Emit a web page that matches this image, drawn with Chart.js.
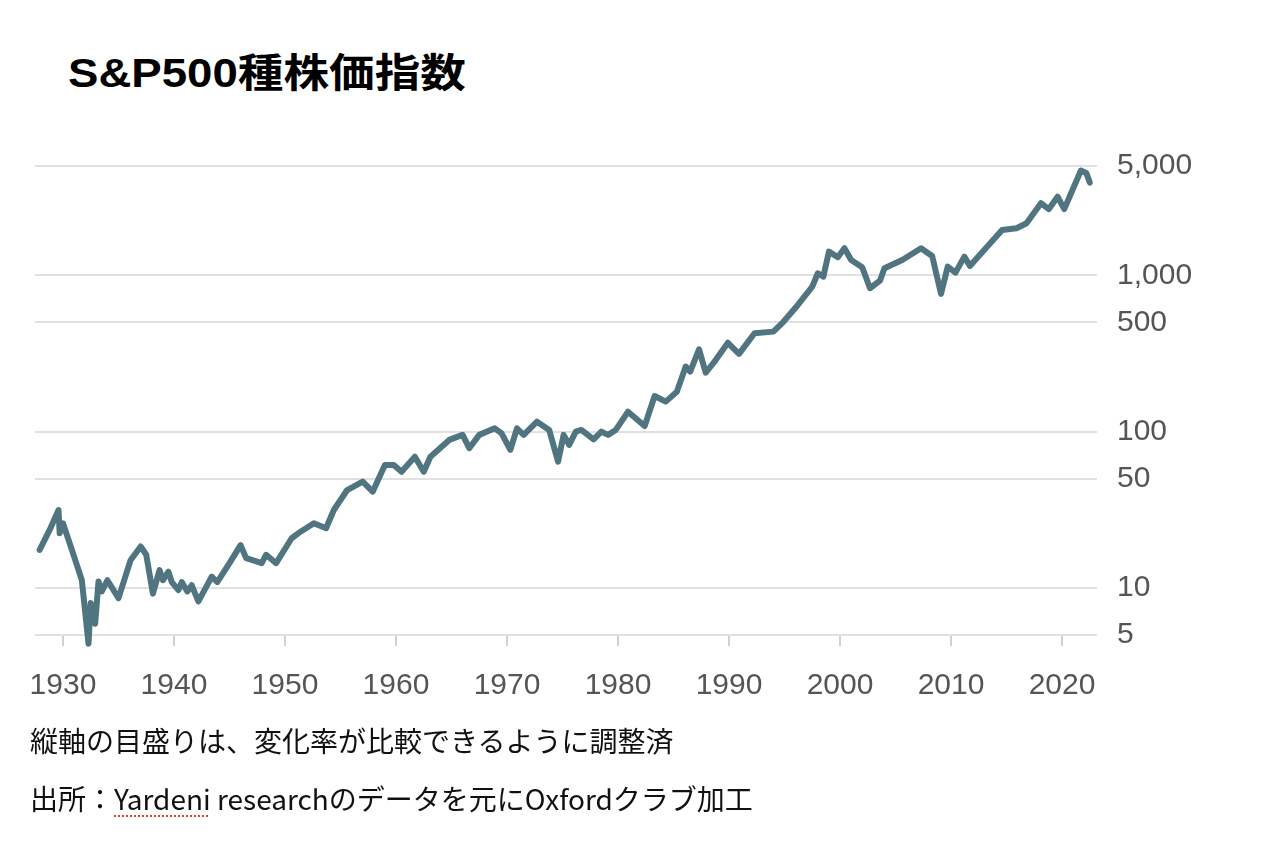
<!DOCTYPE html>
<html>
<head>
<meta charset="utf-8">
<script src="https://cdn.jsdelivr.net/npm/chart.js@4.4.1/dist/chart.umd.min.js"></script>
<style>
html, body { margin: 0; padding: 0; background: #fff; }
body { width: 1268px; height: 846px; position: relative; overflow: hidden; font-family: "Noto Sans CJK JP", sans-serif; }
#sp500_chart { position: absolute; left: 0; top: 0; }
.title { position: absolute; left: 68px; top: 53px; font: bold 40px/40px "Liberation Sans", "Noto Sans CJK JP", sans-serif;
         transform: scaleX(1.14); transform-origin: left top; color: #000; white-space: nowrap; }
.note { position: absolute; left: 30px; font-size: 28px; line-height: 28px; color: #111; white-space: nowrap; }
.spell { text-decoration: underline dotted #e03c3c; text-decoration-thickness: 2px; text-underline-offset: 5px; }
</style>
</head>
<body>
<div class="title">S&amp;P500種株価指数</div>
<canvas id="sp500_chart" width="1268" height="846"></canvas>
<div class="note" style="top:726px">縦軸の目盛りは、変化率が比較できるように調整済</div>
<div class="note" style="top:784px">出所：<span class="spell">Yardeni</span> researchのデータを元にOxfordクラブ加工</div>
<script>
// values (log scale)
const years = [
    1927.9, 1928.8, 1929.6, 1929.7, 1930.0, 1930.9, 1931.7, 1932.3, 1932.5, 1932.9,
    1933.2, 1933.5, 1934.0, 1935.0, 1936.1, 1937.0, 1937.5, 1938.1, 1938.7, 1939.0,
    1939.5, 1939.8, 1940.4, 1940.7, 1941.2, 1941.6, 1942.2, 1943.4, 1943.9, 1945.0,
    1946.0, 1946.5, 1947.0, 1947.9, 1948.3, 1949.2, 1950.6, 1951.4, 1952.6, 1953.7,
    1954.4, 1955.6, 1957.0, 1957.9, 1959.0, 1959.8, 1960.5, 1961.7, 1962.5, 1963.1,
    1964.8, 1966.0, 1966.6, 1967.5, 1968.9, 1969.5, 1970.3, 1970.9, 1971.5, 1972.7,
    1973.8, 1974.6, 1975.1, 1975.6, 1976.2, 1976.7, 1977.8, 1978.5, 1979.1, 1979.8,
    1980.9, 1982.4, 1983.3, 1984.3, 1985.3, 1986.1, 1986.5, 1987.3, 1987.9, 1988.8,
    1989.9, 1990.9, 1992.3, 1994.0, 1994.9, 1996.2, 1997.5, 1998.0, 1998.5, 1999.0,
    1999.8, 2000.4, 2001.0, 2002.0, 2002.7, 2003.6, 2004.0, 2005.6, 2007.3, 2008.3,
    2009.1, 2009.7, 2010.4, 2011.2, 2011.7, 2014.6, 2015.9, 2016.8, 2018.1, 2018.8,
    2019.6, 2020.2, 2021.7, 2022.2, 2022.5
];
const index_values = [
    17.5, 23.5, 31.5, 22.4, 25.9, 16.7, 11.2, 4.4, 8.0, 5.9,
    11.0, 9.5, 11.2, 8.6, 15.1, 18.4, 16.3, 9.2, 13.0, 11.2,
    12.7, 10.9, 9.7, 10.9, 9.5, 10.4, 8.2, 11.8, 10.9, 14.4,
    18.8, 15.5, 15.1, 14.4, 16.3, 14.4, 20.8, 22.9, 25.9, 24.1,
    31.5, 42.3, 47.9, 41.3, 61.2, 61.2, 55.4, 69.1, 55.4, 69.1,
    88.5, 95.3, 78.3, 95.3, 105, 97.7, 76.3, 105, 95.3, 115.8,
    102.5, 64.2, 95.3, 82.2, 100, 102.5, 89.3, 100, 95.3, 102.5,
    134, 108.7, 169, 155.5, 180, 261, 242, 336, 238, 287,
    370, 314, 426, 436, 504, 646, 845, 1030, 980, 1416,
    1303, 1489, 1253, 1126, 826, 924, 1109, 1253, 1489, 1330,
    760, 1135, 1040, 1316, 1148, 1950, 2000, 2152, 2890, 2648,
    3184, 2648, 4676, 4497, 3916
];
const x_ticks = [1930, 1940, 1950, 1960, 1970, 1980, 1990, 2000, 2010, 2020];
const y_ticks = [5, 10, 50, 100, 500, 1000, 5000];

const line_data = years.map((yr, i) => ({ x: yr, y: index_values[i] }));

const sp500_config = {
    type: 'line',
    data: {
        datasets: [{
            data: line_data,
            borderColor: '#507581',
            borderWidth: 6,
            pointRadius: 0,
            tension: 0,
            clip: false,
            borderJoinStyle: 'round',
            borderCapStyle: 'round'
        }]
    },
    options: {
        responsive: false,
        animation: false,
        devicePixelRatio: 1,
        layout: { padding: { left: 35, top: 166, right: 0, bottom: 0 } },
        plugins: { legend: { display: false }, tooltip: { enabled: false } },
        scales: {
            x: {
                type: 'linear',
                min: 1927.48,
                max: 2023.15,
                afterBuildTicks: (scale) => { scale.ticks = x_ticks.map(v => ({ value: v })); },
                afterFit: (scale) => { scale.height = 211; },
                grid: { drawOnChartArea: false, tickLength: 11, color: '#d0d0d0', lineWidth: 2 },
                border: { display: false },
                ticks: {
                    padding: 22,
                    color: '#555',
                    font: { family: 'Liberation Sans', size: 30 },
                    callback: (v) => String(v),
                    maxRotation: 0
                }
            },
            y: {
                type: 'logarithmic',
                position: 'right',
                min: 5,
                max: 5000,
                afterBuildTicks: (scale) => { scale.ticks = y_ticks.map(v => ({ value: v })); },
                afterFit: (scale) => { scale.width = 171; },
                grid: { drawTicks: false, color: '#e1e1e1', lineWidth: 2 },
                border: { display: false },
                ticks: {
                    padding: 20,
                    color: '#555',
                    font: { family: 'Liberation Sans', size: 30 },
                    callback: (v) => v.toLocaleString('en-US')
                }
            }
        }
    }
};

window.onload = function () {
    new Chart(document.getElementById('sp500_chart').getContext('2d'), sp500_config);
};
</script>
</body>
</html>
